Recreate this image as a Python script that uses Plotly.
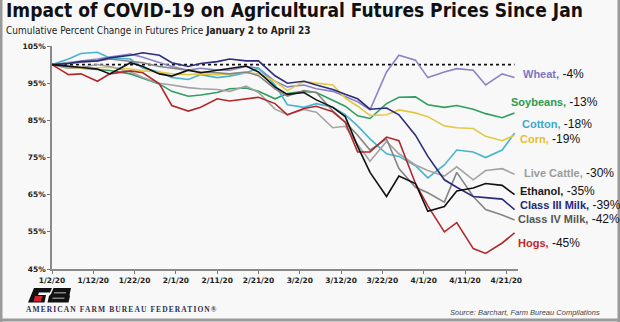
import plotly.graph_objects as go

# ---------------- data ----------------
dates = ["2020-01-02", "2020-01-06", "2020-01-09", "2020-01-13", "2020-01-16", "2020-01-21",
         "2020-01-24", "2020-01-28", "2020-01-31", "2020-02-04", "2020-02-07", "2020-02-11",
         "2020-02-14", "2020-02-18", "2020-02-21", "2020-02-25", "2020-02-28", "2020-03-03",
         "2020-03-06", "2020-03-10", "2020-03-13", "2020-03-16", "2020-03-19", "2020-03-23",
         "2020-03-26", "2020-03-30", "2020-04-02", "2020-04-06", "2020-04-09", "2020-04-13",
         "2020-04-16", "2020-04-20", "2020-04-23"]

wheat = [100, 100.5, 101, 101.5, 102, 102.8, 102, 100.5, 99.5, 98.5, 99, 98.5, 98.5, 99.5, 99,
         95.5, 94, 94.5, 93.5, 92.8, 91.5, 90, 87.8, 98, 102.5, 101.2, 96.5, 98, 98.9, 98.5,
         94.5, 97.5, 96.5]
soybeans = [100, 99.3, 99, 98.7, 98.4, 97.5, 96.3, 94.8, 92.8, 91.5, 91.8, 92.5, 93.5, 93.7, 92.8,
            90.8, 92.2, 92.8, 92.5, 90.5, 88.8, 86.2, 85.5, 89.5, 91.2, 91.3, 89.2, 88.5, 89, 88,
            86.8, 85.7, 87]
cotton = [100, 101.5, 103, 103.3, 101.8, 101.5, 99, 98, 96.5, 96, 97.3, 96.5, 96.9, 97.8, 99,
          94.5, 89.2, 88.5, 89.5, 88.5, 86.5, 83.5, 80, 76, 75.3, 72.8, 69.5, 73, 77, 76.5,
          75, 77, 81.6]
corn = [100, 99, 99, 99.2, 99.3, 98.8, 98.3, 98, 97.5, 97.3, 97.5, 97.3, 97.5, 97.8, 97.5,
        95.5, 93, 95.5, 95, 94.5, 91, 88.8, 86.3, 86.5, 87.8, 87, 86, 83.5, 83, 82.8,
        80.7, 79.5, 81]
live_cattle = [100, 99, 99.2, 100, 99.5, 98, 96.5, 95, 94.5, 93.8, 93.5, 93.3, 92.8, 94.2, 92.5,
               88, 86.5, 87.9, 87.2, 83, 83.4, 78.5, 74, 79.3, 76, 73, 71.5, 70, 72.5, 69,
               71.5, 72, 70.5]
ethanol = [100, 99.6, 99.3, 98.8, 97.5, 100.5, 99.5, 97.5, 96.9, 98.5, 97.8, 98.5, 99, 99.6, 98,
           94, 92, 92.5, 90.5, 88.5, 86, 78, 71, 64.5, 70, 68, 60.5, 61.8, 66, 66.8,
           68, 67.5, 65]
class3_milk = [100, 100.3, 100.8, 101, 101.8, 102.5, 103.2, 102.5, 100.5, 99.5, 100.3, 100.8, 101.5,
               101, 101, 97, 95, 95.5, 94.5, 93.3, 92, 90.8, 88, 88.3, 86.5, 81, 75.3, 69, 67,
               64.5, 64.2, 63.8, 61]
class4_milk = [100, 100.3, 100.5, 101, 101.5, 101, 100.5, 99.5, 99, 98.5, 98, 97.8, 97.5, 98, 97,
               93.5, 91.5, 93, 92.5, 87.5, 84.5, 81, 77, 80, 72, 67, 65.5, 63, 71, 64.5,
               61, 59.5, 58.2]
hogs = [100, 97.3, 97.5, 95.5, 97.5, 98.3, 97.8, 94.8, 89, 87.5, 88.5, 90.8, 90.2, 90.8, 91.2,
        89.5, 86.5, 88.2, 88.8, 87.3, 84.5, 76.5, 76.5, 80.5, 79.5, 68, 62, 55, 57.5, 50.5,
        49.2, 52, 54.7]

series_names = ["Wheat", "Soybeans", "Cotton", "Corn", "Live Cattle", "Ethanol",
                "Class III Milk", "Class IV Milk", "Hogs"]
series_changes = ["-4%", "-13%", "-18%", "-19%", "-30%", "-35%", "-39%", "-42%", "-45%"]
series_values = [wheat, soybeans, cotton, corn, live_cattle, ethanol, class3_milk, class4_milk, hogs]

baseline = 100
x_tick_dates = ["2020-01-02", "2020-01-12", "2020-01-22", "2020-02-01", "2020-02-11", "2020-02-21",
                "2020-03-02", "2020-03-12", "2020-03-22", "2020-04-01", "2020-04-11", "2020-04-21"]
x_tick_labels = ["1/2/20", "1/12/20", "1/22/20", "2/1/20", "2/11/20", "2/21/20",
                 "3/2/20", "3/12/20", "3/22/20", "4/1/20", "4/11/20", "4/21/20"]
y_tick_values = [45, 55, 65, 75, 85, 95, 105]
y_tick_labels = ["45%", "55%", "65%", "75%", "85%", "95%", "105%"]

# ---------------- styles / layout ----------------
W, H = 620, 322
ML, MR, MT, MB = 52, 102, 46, 53
PW, PH = W - ML - MR, H - MT - MB

line_colors = ["#8a84c6", "#2f9e5e", "#46b4cf", "#e2c945", "#a3a3a3", "#111111",
               "#2b2c7a", "#858585", "#b02a2c"]
label_colors = ["#7d75c4", "#2b9b4c", "#3aa9cf", "#e6bf2e", "#9b9b9b", "#1a1a1a",
                "#25287a", "#555555", "#c0282b"]
label_px = [521, 509, 520, 518, 522, 518, 518, 516, 516]
label_py = [74, 102, 123.5, 139, 173, 191, 205, 219, 243]
draw_order = [0, 1, 2, 3, 4, 7, 6, 8, 5]


def fx(px):
    return (px - ML) / PW


def fy(py):
    return (H - MB - py) / PH


fig = go.Figure()

fig.add_trace(go.Scatter(x=[dates[0], dates[-1]], y=[baseline, baseline], mode="lines",
                         line=dict(color="#111111", width=1.6, dash="dot"),
                         hoverinfo="skip", showlegend=False))

for i in draw_order:
    fig.add_trace(go.Scatter(x=dates, y=series_values[i], mode="lines", name=series_names[i],
                             line=dict(color=line_colors[i], width=1.6),
                             showlegend=False))

annotations = []
for i, name in enumerate(series_names):
    annotations.append(dict(
        x=fx(label_px[i]), y=fy(label_py[i]), xref="paper", yref="paper",
        xanchor="left", yanchor="middle", showarrow=False,
        text=(f"<b><span style='color:{label_colors[i]}'>{name},</span></b>"
              f"<span style='font-size:12px'> {series_changes[i]}</span>"),
        font=dict(family="Liberation Sans, Arial, sans-serif", size=11, color="#111111")))

annotations.append(dict(
    x=fx(4), y=fy(10), xref="paper", yref="paper", xanchor="left", yanchor="middle",
    showarrow=False,
    text="<b>Impact of COVID-19 on Agricultural Futures Prices Since Jan</b>",
    font=dict(family="Liberation Sans Narrow, DejaVu Sans Condensed, Roboto, sans-serif",
              size=19, color="#111111")))
annotations.append(dict(
    x=fx(4), y=fy(30), xref="paper", yref="paper", xanchor="left", yanchor="middle",
    showarrow=False,
    text="Cumulative Percent Change in Futures Price <b>January 2 to April 23</b>",
    font=dict(family="Liberation Sans Narrow, DejaVu Sans Condensed, Roboto, sans-serif",
              size=10, color="#222222")))
annotations.append(dict(
    x=fx(602), y=fy(312), xref="paper", yref="paper", xanchor="right", yanchor="middle",
    showarrow=False,
    text="<i>Source: Barchart, Farm Bureau Compilations</i>",
    font=dict(family="Liberation Sans, Arial, sans-serif", size=7.5, color="#444444")))
annotations.append(dict(
    x=fx(24), y=fy(309), xref="paper", yref="paper", xanchor="left", yanchor="middle",
    showarrow=False,
    text="<b><span style='letter-spacing:1.1px'>AMERICAN FARM BUREAU FEDERATION®</span></b>",
    font=dict(family="Liberation Serif, Times New Roman, serif", size=7.5, color="#2c2f4e")))


def path(points):
    s = "M " + " L ".join(f"{fx(x):.5f},{fy(y):.5f}" for x, y in points) + " Z"
    return s


shapes = []
# logo (approximation of the AFBF mark)
shapes.append(dict(type="path", xref="paper", yref="paper", line=dict(width=0), fillcolor="#111111",
                   path=path([(34, 288), (52, 288), (50, 292.5), (39, 292.5), (38, 295), (46, 295),
                              (44.5, 302.5), (28, 302.5)])))
shapes.append(dict(type="path", xref="paper", yref="paper", line=dict(width=0), fillcolor="#d3202a",
                   path=path([(35, 296), (42.5, 296), (41, 301.5), (33.5, 301.5)])))
shapes.append(dict(type="path", xref="paper", yref="paper", line=dict(width=0), fillcolor="#111111",
                   path=path([(53.5, 288), (71, 288), (69.5, 295), (70, 296), (68.5, 302.5),
                              (47.5, 302.5), (49, 296), (51, 294)])))
shapes.append(dict(type="path", xref="paper", yref="paper", line=dict(width=0), fillcolor="#f8f8f8",
                   path=path([(54, 292.5), (66, 292.5), (65.8, 293.3), (53.8, 293.3)])))
shapes.append(dict(type="path", xref="paper", yref="paper", line=dict(width=0), fillcolor="#f8f8f8",
                   path=path([(52.5, 297.8), (64.5, 297.8), (64.3, 298.6), (52.3, 298.6)])))
# frame edges of the picture
for x0, y0, x1, y1 in [(1, 0, 1, H), (W - 1, 0, W - 1, H), (0, H - 2, W, H - 2)]:
    shapes.append(dict(type="line", xref="paper", yref="paper", x0=fx(x0), y0=fy(y0),
                       x1=fx(x1), y1=fy(y1), line=dict(color="#9a9a9a", width=3)))

fig.update_layout(
    width=W, height=H,
    margin=dict(l=ML, r=MR, t=MT, b=MB, pad=0),
    paper_bgcolor="#f8f8f9", plot_bgcolor="#f8f8f9",
    showlegend=False,
    annotations=annotations,
    shapes=shapes,
    xaxis=dict(type="date", range=["2020-01-02", "2020-04-23 20:00"],
               tickvals=x_tick_dates, ticktext=[f"<b>{t}</b>" for t in x_tick_labels],
               ticks="outside", ticklen=3, tickcolor="#777777", tickwidth=1,
               showline=True, linecolor="#8a8a8a", linewidth=1.5,
               showgrid=False, zeroline=False,
               tickfont=dict(family="DejaVu Sans, sans-serif", size=7.5, color="#222222")),
    yaxis=dict(range=[45, 105], tickvals=y_tick_values,
               ticktext=[f"<b>{t}</b>" for t in y_tick_labels],
               ticks="outside", ticklen=3, tickcolor="#777777", tickwidth=1,
               showline=True, linecolor="#8a8a8a", linewidth=1.5,
               showgrid=False, zeroline=False,
               tickfont=dict(family="DejaVu Sans, sans-serif", size=7.5, color="#222222")),
)

fig.write_html("out.html")
